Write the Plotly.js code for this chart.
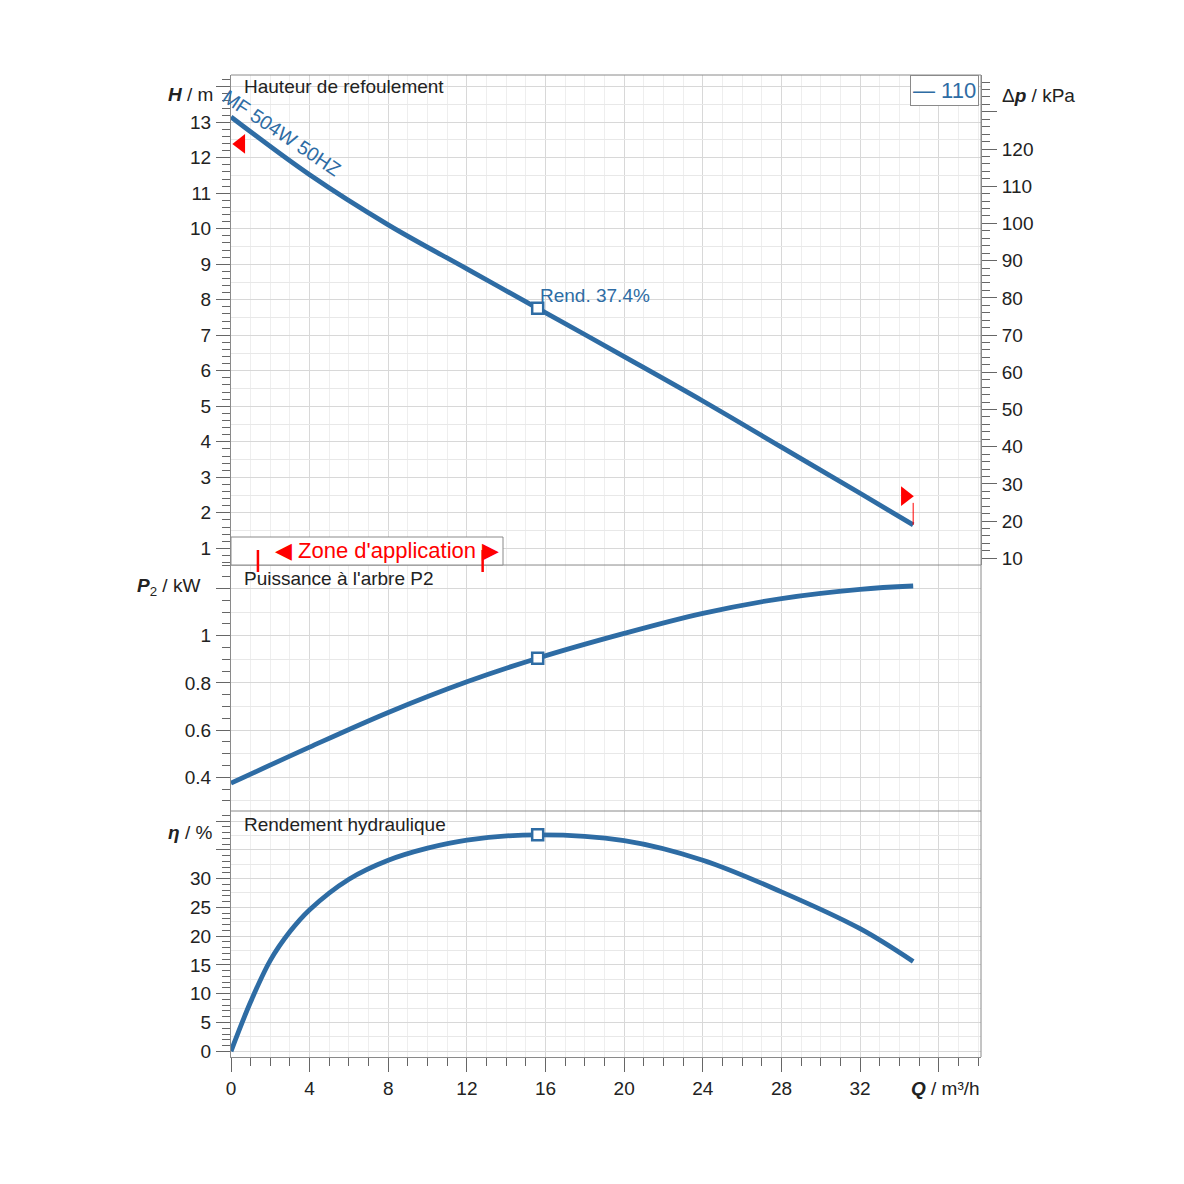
<!DOCTYPE html>
<html>
<head>
<meta charset="utf-8">
<script src="https://cdn.plot.ly/plotly-3.0.1.min.js"></script>
<style>html,body{margin:0;padding:0;background:#fff;}</style>
</head>
<body>
<div id="chart" style="width:1184px;height:1184px;"></div>
<script>
// ---- data ----
const qHead = [0, 4, 8, 12, 15.6, 20, 24, 28, 32, 34.7];
const head = [13.15, 11.52, 10.11, 8.87, 7.76, 6.40, 5.15, 3.85, 2.55, 1.66];

const qPower = [0, 4, 8, 12, 15.6, 20, 24, 28, 32, 34.7];
const power = [0.375, 0.528, 0.675, 0.805, 0.905, 1.010, 1.095, 1.158, 1.197, 1.211];

const qEff = [0, 1, 2, 3, 4, 6, 8, 10, 12, 15.6, 20, 24, 28, 32, 34.7];
const eff = [0, 8.6, 15.8, 20.8, 24.6, 29.9, 33.2, 35.3, 36.7, 37.6, 36.6, 33.2, 27.7, 21.3, 15.6];

const opQ = [15.6];
const opH = [7.76];
const opP = [0.905];
const opEff = [37.6];

const limitQ = [0.5, 34.3];
const limitH = [12.39, 2.47];
const limitSymbols = ['triangle-left', 'triangle-right'];
const limLineQ = [34.7, 34.7];
const limLineH = [2.28, 1.66];

const zoneQ = [1.37, 12.8];

const xTickVals = [0, 4, 8, 12, 16, 20, 24, 28, 32, 36];
const xTickText = ['0', '4', '8', '12', '16', '20', '24', '28', '32', ' '];
const hTickVals = [1, 2, 3, 4, 5, 6, 7, 8, 9, 10, 11, 12, 13, 14];
const hTickText = ['1', '2', '3', '4', '5', '6', '7', '8', '9', '10', '11', '12', '13', ' '];
const pTickVals = [0.4, 0.6, 0.8, 1.0, 1.2];
const pTickText = ['0.4', '0.6', '0.8', '1', ' '];
const eTickVals = [0, 5, 10, 15, 20, 25, 30, 35, 40];
const eTickText = ['0', '5', '10', '15', '20', '25', '30', ' ', ' '];
const dpTickVals = [10, 20, 30, 40, 50, 60, 70, 80, 90, 100, 110, 120, 130];
const dpTickText = ['10', '20', '30', '40', '50', '60', '70', '80', '90', '100', '110', '120', ' '];

const curveName = 'MF 504W 50HZ';
const legendLabel = '— 110';
const effLabel = 'Rend. 37.4%';

// ---- styling ----
const BLUE = '#2e6ca4';
const RED = '#ff0000';
const GRID = '#d8d8d8';
const GRID_MINOR = '#eeeeee';
const GRID_HALF = '#e8e8e8';
const LINE = '#8a8a8a';
const TICK = '#666666';
const FONT = 'Liberation Sans, Arial, Helvetica, sans-serif';

const xRange = [0, 38.15];
const hRange = [0.53, 14.33];
const pRange = [0.257, 1.30];
const eRange = [-0.99, 41.74];
const dpRange = [8.2, 139.89];

const dTop = [0.501, 1];
const dMid = [0.2505, 0.501];
const dBot = [0, 0.2505];

function yAx(domain, range, vals, text, minorDt) {
  return {
    domain: domain, range: range, anchor: 'x',
    tickmode: 'array', tickvals: vals, ticktext: text,
    ticks: 'outside', ticklen: 14, tickcolor: TICK, tickwidth: 1,
    minor: {tickmode: 'linear', tick0: 0, dtick: minorDt, ticks: 'outside', ticklen: 8, tickcolor: TICK, showgrid: false},
    showgrid: true, gridcolor: GRID, gridwidth: 1,
    showline: true, linecolor: LINE, linewidth: 1, mirror: false,
    zeroline: false, tickfont: {size: 19, color: '#222'}, ticklabelstandoff: 1
  };
}
function halfGrid(over, range, t0, dt) {
  return {
    overlaying: over, anchor: 'x', range: range, tickmode: 'linear', tick0: t0, dtick: dt,
    showgrid: true, gridcolor: GRID_HALF, showticklabels: false, ticks: '',
    showline: false, zeroline: false
  };
}

const traces = [
  {x: qHead, y: head, yaxis: 'y', mode: 'lines', line: {color: BLUE, width: 4.8, shape: 'spline', smoothing: 1}, hoverinfo: 'skip'},
  {x: qPower, y: power, yaxis: 'y2', mode: 'lines', line: {color: BLUE, width: 4.8, shape: 'spline', smoothing: 1}, hoverinfo: 'skip'},
  {x: qEff, y: eff, yaxis: 'y3', mode: 'lines', line: {color: BLUE, width: 4.8, shape: 'spline', smoothing: 1}, hoverinfo: 'skip'},
  {x: opQ, y: opH, yaxis: 'y', mode: 'markers', marker: {symbol: 'square', size: 11, color: '#fff', line: {color: BLUE, width: 2.5}}},
  {x: opQ, y: opP, yaxis: 'y2', mode: 'markers', marker: {symbol: 'square', size: 11, color: '#fff', line: {color: BLUE, width: 2.5}}},
  {x: opQ, y: opEff, yaxis: 'y3', mode: 'markers', marker: {symbol: 'square', size: 11, color: '#fff', line: {color: BLUE, width: 2.5}}},
  {x: limLineQ, y: limLineH, yaxis: 'y', mode: 'lines', line: {color: RED, width: 1}},
  {x: limitQ, y: limitH, yaxis: 'y', mode: 'markers', marker: {symbol: limitSymbols, size: 17, color: RED}},
  // invisible carriers for the extra axes
  {x: qHead, y: head, yaxis: 'y4', mode: 'lines', opacity: 0, line: {width: 0}, hoverinfo: 'skip'},
  {x: qHead, y: head, yaxis: 'y5', mode: 'lines', opacity: 0, line: {width: 0}, hoverinfo: 'skip'},
  {x: qPower, y: power, yaxis: 'y6', mode: 'lines', opacity: 0, line: {width: 0}, hoverinfo: 'skip'},
  {x: qEff, y: eff, yaxis: 'y7', mode: 'lines', opacity: 0, line: {width: 0}, hoverinfo: 'skip'}
];
traces.forEach(function (t) { t.showlegend = false; t.cliponaxis = false; });

function paperY(px) { return (1057 - px) / 982; }
function paperX(px) { return (px - 231) / 750; }

const frameLines = [1, dTop[0], dMid[0]].map(function (yy) {
  return {type: 'line', xref: 'paper', yref: 'paper', x0: 0, x1: 1, y0: yy, y1: yy, line: {color: LINE, width: 1}, layer: 'above'};
}).concat([{type: 'line', xref: 'paper', yref: 'paper', x0: 1, x1: 1, y0: 0, y1: 1, line: {color: LINE, width: 1}, layer: 'above'}]);

const shapes = frameLines.concat([
  {type: 'rect', xref: 'paper', yref: 'paper', x0: 0, x1: paperX(503), y0: dTop[0], y1: paperY(537),
   fillcolor: '#ffffff', line: {color: LINE, width: 1}, layer: 'above'}
]).concat(zoneQ.map(function (q) {
  return {type: 'line', xref: 'x', yref: 'paper', x0: q, x1: q, y0: paperY(550), y1: paperY(572),
          line: {color: RED, width: 2.5}, layer: 'above'};
}));

const ann = [
  {xref: 'paper', yref: 'paper', x: paperX(242), y: paperY(87), xanchor: 'left', yanchor: 'middle', showarrow: false,
   text: 'Hauteur de refoulement', font: {size: 19, color: '#222'}},
  {xref: 'paper', yref: 'paper', x: paperX(242), y: paperY(578), xanchor: 'left', yanchor: 'middle', showarrow: false,
   text: "Puissance à l'arbre P2", font: {size: 19, color: '#222'}},
  {xref: 'paper', yref: 'paper', x: paperX(242), y: paperY(824), xanchor: 'left', yanchor: 'middle', showarrow: false,
   text: 'Rendement hydraulique', font: {size: 19, color: '#222'}},
  {xref: 'paper', yref: 'paper', x: paperX(215), y: paperY(95), xanchor: 'right', yanchor: 'middle', showarrow: false,
   text: '<b><i>H</i></b> / m', font: {size: 19, color: '#222'}},
  {xref: 'paper', yref: 'paper', x: paperX(202), y: paperY(587), xanchor: 'right', yanchor: 'middle', showarrow: false,
   text: '<b><i>P</i></b><sub>2</sub> / kW', font: {size: 19, color: '#222'}},
  {xref: 'paper', yref: 'paper', x: paperX(214), y: paperY(833), xanchor: 'right', yanchor: 'middle', showarrow: false,
   text: '<b><i>η</i></b> / %', font: {size: 19, color: '#222'}},
  {xref: 'paper', yref: 'paper', x: paperX(1000), y: paperY(96), xanchor: 'left', yanchor: 'middle', showarrow: false,
   text: 'Δ<b><i>p</i></b> / kPa', font: {size: 19, color: '#222'}},
  {xref: 'paper', yref: 'paper', x: paperX(909), y: paperY(1088), xanchor: 'left', yanchor: 'middle', showarrow: false,
   text: '<b><i>Q</i></b> / m³/h', font: {size: 19, color: '#222'}},
  {xref: 'paper', yref: 'paper', x: paperX(282), y: paperY(133), xanchor: 'center', yanchor: 'middle', showarrow: false,
   text: curveName, textangle: 34, font: {size: 19.5, color: BLUE}},
  {xref: 'paper', yref: 'paper', x: paperX(538), y: paperY(295), xanchor: 'left', yanchor: 'middle', showarrow: false,
   text: effLabel, font: {size: 19, color: BLUE}},
  {xref: 'paper', yref: 'paper', x: paperX(979), y: 1, xanchor: 'right', yanchor: 'top', showarrow: false,
   text: legendLabel, font: {size: 22, color: BLUE}, bgcolor: '#ffffff', bordercolor: LINE, borderwidth: 1, borderpad: 2},
  {xref: 'paper', yref: 'paper', x: paperX(501), y: paperY(550), xanchor: 'right', yanchor: 'middle', showarrow: false,
   text: "◀ Zone d'application ▶", font: {size: 22, color: RED}}
];

const layout = {
  width: 1184, height: 1184,
  margin: {l: 231, r: 203, t: 75, b: 127, pad: 0},
  paper_bgcolor: '#ffffff', plot_bgcolor: '#ffffff',
  font: {family: FONT, size: 19, color: '#222'},
  showlegend: false,
  xaxis: {
    range: xRange, anchor: 'y3', tickmode: 'array', tickvals: xTickVals, ticktext: xTickText,
    ticks: 'outside', ticklen: 14, tickcolor: TICK, tickwidth: 1,
    minor: {tickmode: 'linear', tick0: 0, dtick: 1, ticks: 'outside', ticklen: 8, tickcolor: TICK, showgrid: true, gridcolor: GRID_MINOR},
    showgrid: true, gridcolor: GRID, showline: true, linecolor: LINE, linewidth: 1, mirror: false,
    zeroline: false, tickfont: {size: 19, color: '#222'}, ticklabelstandoff: 0
  },
  yaxis: yAx(dTop, hRange, hTickVals, hTickText, 0.2),
  yaxis2: yAx(dMid, pRange, pTickVals, pTickText, 0.05),
  yaxis3: yAx(dBot, eRange, eTickVals, eTickText, 1),
  yaxis4: {
    overlaying: 'y', side: 'right', anchor: 'x', range: dpRange,
    tickmode: 'array', tickvals: dpTickVals, ticktext: dpTickText,
    ticks: 'outside', ticklen: 15, tickcolor: TICK, tickwidth: 1,
    minor: {tickmode: 'linear', tick0: 0, dtick: 2, ticks: 'outside', ticklen: 8, tickcolor: TICK, showgrid: false},
    showgrid: false, showline: true, linecolor: LINE, zeroline: false,
    tickfont: {size: 19, color: '#222'}, ticklabelstandoff: 1
  },
  yaxis5: halfGrid('y', hRange, 0.5, 1),
  yaxis6: halfGrid('y2', pRange, 0.1, 0.2),
  yaxis7: halfGrid('y3', eRange, 2.5, 5),
  shapes: shapes,
  annotations: ann
};

Plotly.newPlot('chart', traces, layout, {staticPlot: true, displayModeBar: false});
</script>
</body>
</html>
